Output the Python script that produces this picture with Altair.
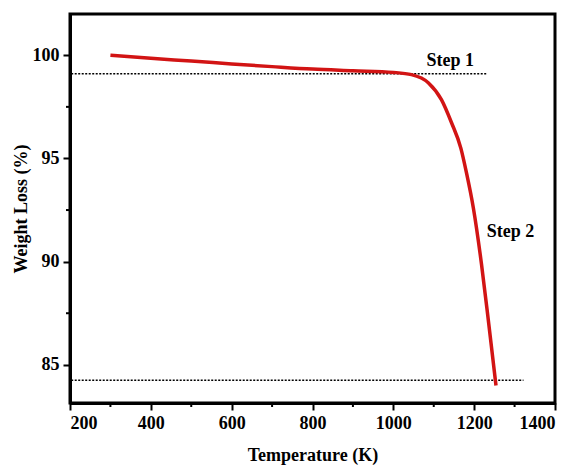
import altair as alt
import pandas as pd

# Curve data
temp = [300, 400, 500, 600, 700, 800, 900, 1000, 1045, 1087, 1119, 1144, 1167, 1181, 1198, 1218, 1236, 1254]
weight = [100.0, 99.85, 99.72, 99.58, 99.45, 99.33, 99.25, 99.17, 99.06, 98.66, 97.85, 96.73, 95.5, 94.3, 92.6, 89.9, 87.0, 84.0]

# Dotted reference lines
ref_x1 = [203, 203]
ref_x2 = [1230, 1322]
ref_y = [99.1, 84.25]
ref_id = ["s1", "s2"]

# Labels
label_text = ["Step 1", "Step 2"]
label_x = [1141, 1290]
label_y = [99.72, 91.43]

x_ticks = [200, 400, 600, 800, 1000, 1200, 1400]
x_minor = [300, 500, 700, 900, 1100, 1300]
y_ticks = [85, 90, 95, 100]
y_minor = [87.5, 92.5, 97.5]

FONT = "Liberation Serif"
W, H = 485, 389

xs = alt.Scale(domain=[200, 1400], nice=False, zero=False)
ys = alt.Scale(domain=[83.15, 102], nice=False, zero=False)

curve_df = pd.DataFrame({"T": temp, "W": weight})
ref_df = pd.DataFrame({"x1": ref_x1, "x2": ref_x2, "y": ref_y, "id": ref_id})
lab_df = pd.DataFrame({"t": label_text, "x": label_x, "y": label_y})
xm_df = pd.DataFrame({"v": x_minor})
ym_df = pd.DataFrame({"v": y_minor})

x_axis = alt.Axis(values=x_ticks, title="Temperature (K)", grid=False, format="d")
y_axis = alt.Axis(values=y_ticks, title="Weight Loss (%)", grid=False, format="d")

curve = alt.Chart(curve_df).mark_line(color="#d21414", strokeWidth=3.5, interpolate="monotone").encode(
    x=alt.X("T:Q", scale=xs, axis=x_axis),
    y=alt.Y("W:Q", scale=ys, axis=y_axis),
)

refs = alt.Chart(ref_df).mark_rule(color="black", strokeWidth=1.5, strokeDash=[2, 1.5]).encode(
    x=alt.X("x1:Q", scale=xs),
    x2="x2:Q",
    y=alt.Y("y:Q", scale=ys),
)

labels = alt.Chart(lab_df).mark_text(font=FONT, fontSize=18, fontWeight="bold", color="black").encode(
    x=alt.X("x:Q", scale=xs),
    y=alt.Y("y:Q", scale=ys),
    text="t:N",
)

xminor = alt.Chart(xm_df).mark_rule(color="black", strokeWidth=2).encode(
    x=alt.X("v:Q", scale=xs),
    y=alt.value(H),
    y2=alt.value(H + 4),
)

yminor = alt.Chart(ym_df).mark_rule(color="black", strokeWidth=2).encode(
    y=alt.Y("v:Q", scale=ys),
    x=alt.value(-4),
    x2=alt.value(0),
)

chart = alt.layer(refs, curve, labels, xminor, yminor).properties(
    width=W,
    height=H,
    padding={"left": 70, "top": 14, "right": 18, "bottom": 65},
    autosize=alt.AutoSizeParams(type="none"),
).configure_view(
    stroke="black", strokeWidth=3
).configure_axis(
    domainColor="black", domainWidth=3, tickColor="black", tickWidth=2, tickSize=7,
    labelFont=FONT, labelFontSize=18, labelFontWeight="bold", labelColor="black",
    titleFont=FONT, titleFontSize=18, titleFontWeight="bold", titleColor="black",
    labelPadding=4,
).configure_axisX(titlePadding=14).configure_axisY(titlePadding=2)

chart.save("out.html", embed_options={"renderer": "svg", "actions": False})
